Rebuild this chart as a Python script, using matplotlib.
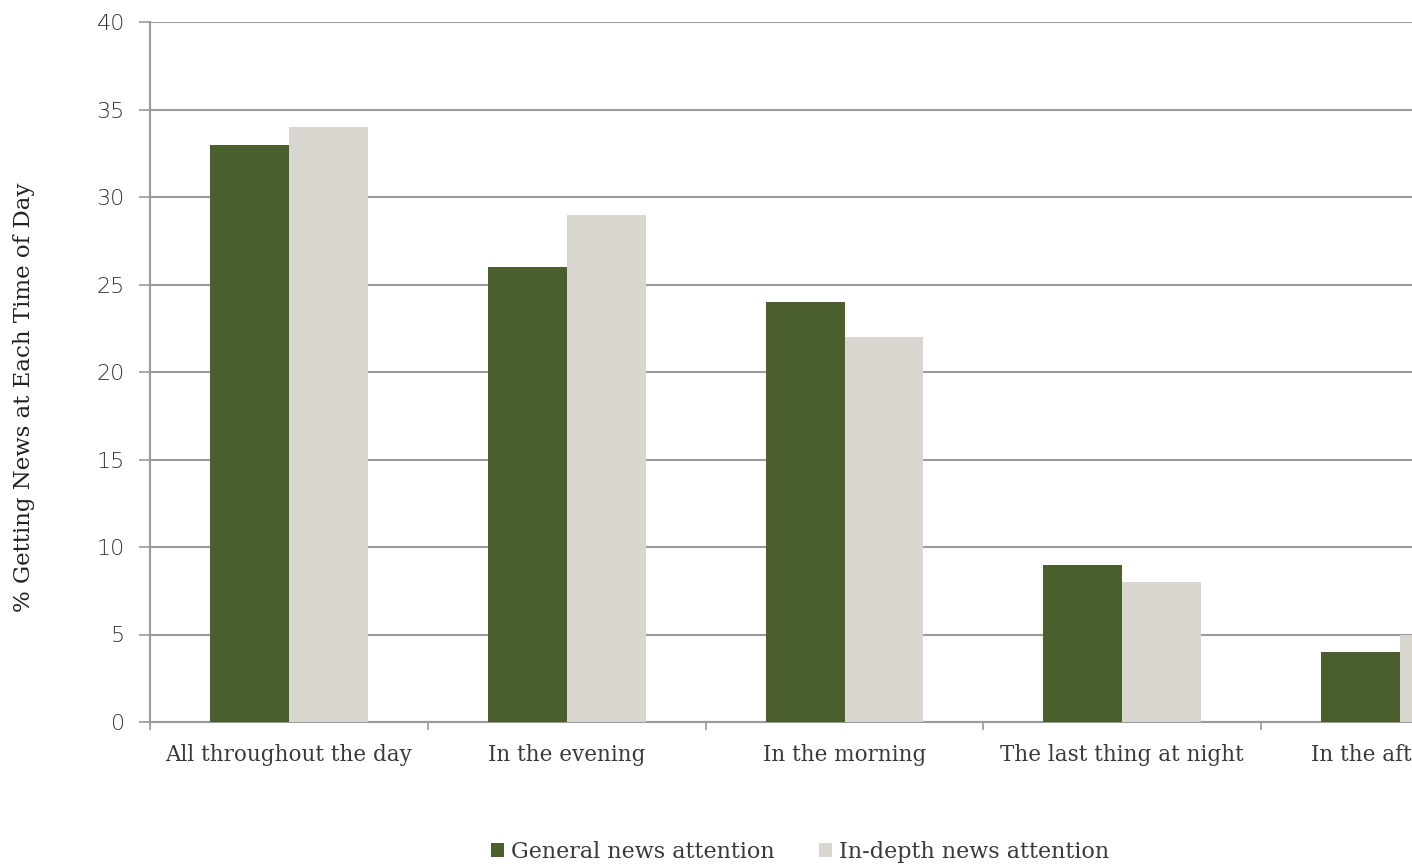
import matplotlib.pyplot as plt
import numpy as np

categories = ["All throughout the day", "In the evening", "In the morning",
              "The last thing at night", "In the afternoon"]
general = [33, 26, 24, 9, 4]
in_depth = [34, 29, 22, 8, 5]
series_names = ["General news attention", "In-depth news attention"]
y_ticks = [0, 5, 10, 15, 20, 25, 30, 35, 40]

GREEN = '#4b5f2e'
GREY = '#d9d6cf'
GRID = '#9a9a9a'

fig = plt.figure(figsize=(14.12, 8.67), dpi=100)
# axes run past the right edge, as in the cropped original
ax = fig.add_axes([150 / 1412, 145 / 867, 1389 / 1412, 700 / 867])

x = np.arange(len(categories))
w = 0.284
ax.bar(x - w / 2, general, w, color=GREEN, label=series_names[0], zorder=3)
ax.bar(x + w / 2, in_depth, w, color=GREY, label=series_names[1], zorder=3)

ax.set_xlim(-0.5, len(categories) - 0.5)
ax.set_ylim(0, 40)
ax.set_yticks(y_ticks)
ax.set_yticklabels([str(v) for v in y_ticks], fontsize=16, color='#333333',
                   fontfamily='DejaVu Sans', fontweight='light')
ax.yaxis.grid(True, color=GRID, lw=1.5, zorder=0)
ax.set_axisbelow(True)

ax.set_xticks(x)
ax.set_xticklabels(categories, fontsize=15.5, color='#3a3a3a', fontfamily='DejaVu Serif')
ax.tick_params(axis='x', length=0, pad=16)
ax.set_xticks(np.arange(-0.5, len(categories), 1), minor=True)
ax.tick_params(axis='x', which='minor', length=6, color=GRID, width=1.2, direction='out')
ax.tick_params(axis='y', length=8, color=GRID, width=1.2, pad=10)

for s in ['top', 'right']:
    ax.spines[s].set_visible(False)
for s in ['left', 'bottom']:
    ax.spines[s].set_color(GRID)
    ax.spines[s].set_linewidth(1.5)

fig.text(24 / 1412, 1 - 397 / 867, "% Getting News at Each Time of Day",
         rotation=90, ha='center', va='center', fontsize=16.5,
         fontfamily='DejaVu Serif', color='#222222')

fig.legend(loc='center', bbox_to_anchor=(800 / 1412, 1 - 852 / 867), ncol=2,
           frameon=False, handlelength=0.6, handleheight=0.6,
           handletextpad=0.3, columnspacing=2.0,
           prop={'family': 'DejaVu Serif', 'size': 16})
for t in fig.legends[0].get_texts():
    t.set_color('#3a3a3a')

fig.savefig('out.png', dpi=100)
